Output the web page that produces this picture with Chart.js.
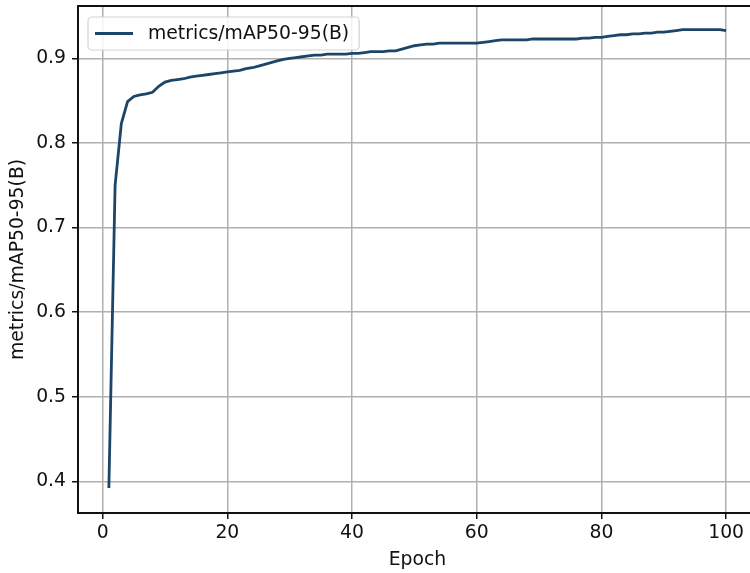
<!DOCTYPE html>
<html>
<head>
<meta charset="utf-8">
<script src="https://cdn.jsdelivr.net/npm/chart.js@4.4.1/dist/chart.umd.min.js"></script>
<style>
  html, body { margin:0; padding:0; background:#fff; overflow:hidden; }
  #wrap { width:750px; height:573px; overflow:hidden; position:relative; }
  canvas { display:block; }
</style>
</head>
<body>
<div id="wrap"><canvas id="mapChart" width="760" height="573"></canvas></div>
<script>
// Data
const SERIES_LABEL = 'metrics/mAP50-95(B)';
const X_TITLE = 'Epoch';
const Y_TITLE = 'metrics/mAP50-95(B)';

const EPOCHS = [
  1,2,3,4,5,6,7,8,9,10,11,12,13,14,15,16,17,18,19,20,
  21,22,23,24,25,26,27,28,29,30,31,32,33,34,35,36,37,38,39,40,
  41,42,43,44,45,46,47,48,49,50,51,52,53,54,55,56,57,58,59,60,
  61,62,63,64,65,66,67,68,69,70,71,72,73,74,75,76,77,78,79,80,
  81,82,83,84,85,86,87,88,89,90,91,92,93,94,95,96,97,98,99,100
];
const MAP50_95 = [
  0.392,0.750,0.823,0.849,0.855,0.857,0.858,0.860,0.867,0.872,
  0.874,0.875,0.876,0.878,0.879,0.880,0.881,0.882,0.883,0.884,
  0.885,0.886,0.888,0.889,0.891,0.893,0.895,0.897,0.899,0.900,
  0.901,0.902,0.903,0.904,0.904,0.905,0.905,0.905,0.905,0.906,
  0.906,0.907,0.908,0.908,0.908,0.909,0.909,0.911,0.913,0.915,
  0.916,0.917,0.917,0.918,0.918,0.918,0.918,0.918,0.918,0.918,
  0.919,0.920,0.921,0.922,0.922,0.922,0.922,0.922,0.923,0.923,
  0.923,0.923,0.923,0.923,0.923,0.923,0.924,0.924,0.925,0.925,
  0.926,0.927,0.928,0.928,0.929,0.929,0.930,0.930,0.931,0.931,
  0.932,0.933,0.934,0.934,0.934,0.934,0.934,0.934,0.934,0.933
];
const X_TICKS = [0, 20, 40, 60, 80, 100];
const Y_TICKS = [0.4, 0.5, 0.6, 0.7, 0.8, 0.9];

const FONT = "'DejaVu Sans', sans-serif";
const LINE_COLOR = '#1d4568';

// top spine + legend box drawn inside the plot, matplotlib style
const framePlugin = {
  id: 'frame',
  afterDraw(chart) {
    const { ctx, chartArea: ca } = chart;
    ctx.save();
    ctx.strokeStyle = '#111';
    ctx.lineWidth = 2;
    ctx.beginPath();
    ctx.moveTo(ca.left, ca.top);
    ctx.lineTo(ca.right, ca.top);
    ctx.stroke();

    // legend
    const ds = chart.data.datasets[0];
    ctx.font = '18.8px ' + FONT;
    const tw = ctx.measureText(ds.label).width;
    const bx = ca.left + 10, by = ca.top + 11, bh = 33;
    const bw = 60 + tw + 10;
    ctx.fillStyle = 'rgba(255,255,255,0.85)';
    ctx.strokeStyle = '#d4d4d4';
    ctx.lineWidth = 1.2;
    ctx.beginPath();
    ctx.roundRect(bx, by, bw, bh, 4);
    ctx.fill();
    ctx.stroke();
    ctx.strokeStyle = ds.borderColor;
    ctx.lineWidth = 2.8;
    ctx.beginPath();
    ctx.moveTo(bx + 7, by + bh / 2);
    ctx.lineTo(bx + 45, by + bh / 2);
    ctx.stroke();
    ctx.fillStyle = '#111';
    ctx.textBaseline = 'middle';
    ctx.fillText(ds.label, bx + 60, by + bh / 2 + 1);
    ctx.restore();
  }
};

new Chart(document.getElementById('mapChart'), {
  type: 'line',
  data: {
    datasets: [{
      label: SERIES_LABEL,
      data: EPOCHS.map((e, i) => ({ x: e, y: MAP50_95[i] })),
      borderColor: LINE_COLOR,
      borderWidth: 2.8,
      pointRadius: 0,
      tension: 0,
      fill: false
    }]
  },
  options: {
    responsive: false,
    animation: false,
    devicePixelRatio: 1,
    layout: { autoPadding: false, padding: { left: 0, right: 3, top: 6, bottom: 0 } },
    plugins: { legend: { display: false }, tooltip: { enabled: false } },
    scales: {
      x: {
        type: 'linear',
        min: -3.95, max: 104.95,
        afterBuildTicks: s => { s.ticks = X_TICKS.map(v => ({ value: v })); },
        afterFit: s => { s.height = 60; s.paddingLeft = 0; s.paddingRight = 0; },
        grid: { color: '#b0b0b0', lineWidth: 1.5, tickColor: '#111', tickLength: 6, tickWidth: 1.5 },
        border: { display: true, color: '#111', width: 2 },
        ticks: { color: '#111', font: { family: FONT, size: 18.8 }, padding: 3, maxRotation: 0 },
        title: { display: true, text: X_TITLE, color: '#111', font: { family: FONT, size: 18.8 }, padding: { top: 0, bottom: 2 } }
      },
      y: {
        type: 'linear',
        min: 0.3625, max: 0.962,
        afterBuildTicks: s => { s.ticks = Y_TICKS.map(v => ({ value: v })); },
        afterFit: s => { s.width = 78; s.paddingTop = 0; s.paddingBottom = 0; },
        grid: { color: '#b0b0b0', lineWidth: 1.5, tickColor: '#111', tickLength: 6, tickWidth: 1.5 },
        border: { display: true, color: '#111', width: 2 },
        ticks: { color: '#111', font: { family: FONT, size: 18.8 }, padding: 6, callback: v => v.toFixed(1) },
        title: { display: true, text: Y_TITLE, color: '#111', font: { family: FONT, size: 18.8 }, padding: { top: 7, bottom: 0 } }
      }
    }
  },
  plugins: [framePlugin]
});
</script>
</body>
</html>
